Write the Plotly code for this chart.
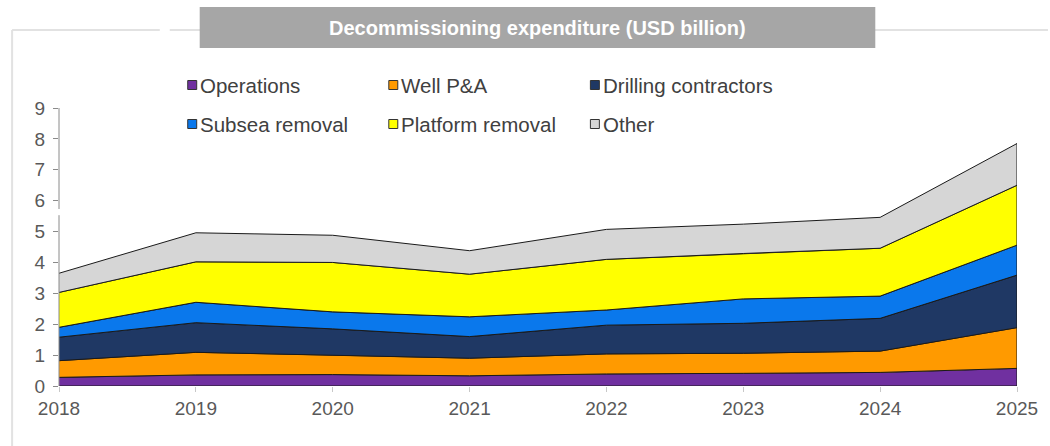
import numpy as np
import plotly.graph_objects as go

# Decommissioning spend by category (USD billion), stacked
years = [2018, 2019, 2020, 2021, 2022, 2023, 2024, 2025]
operations = [0.28, 0.36, 0.37, 0.33, 0.39, 0.41, 0.44, 0.57]
well_pa = [0.54, 0.73, 0.63, 0.57, 0.65, 0.65, 0.69, 1.32]
drilling = [0.76, 0.96, 0.85, 0.70, 0.93, 0.97, 1.06, 1.70]
subsea = [0.32, 0.66, 0.55, 0.64, 0.49, 0.79, 0.72, 0.97]
platform = [1.13, 1.31, 1.60, 1.38, 1.64, 1.47, 1.55, 1.94]
other = [0.62, 0.94, 0.88, 0.76, 0.97, 0.95, 1.00, 1.35]

series_names = ["Operations", "Well P&A", "Drilling contractors",
                "Subsea removal", "Platform removal", "Other"]
series_values = [operations, well_pa, drilling, subsea, platform, other]
series_colors = ["#7030A0", "#FF9A00", "#1F3864", "#0A78EC", "#FFFF00", "#D6D6D6"]

y_ticks = list(range(0, 10))
title_text = "Decommissioning expenditure (USD billion)"

W, H = 1050, 446
ML, MR, MT, MB = 59, 31, 108, 60
PW, PH = W - ML - MR, H - MT - MB


def px_x(p):
    return (p - ML) / PW


def px_y(p):
    return (H - MB - p) / PH


fig = go.Figure()

# each band is a closed polygon between its running-sum floor and ceiling
base = np.zeros(len(years))
for name, vals, col in zip(series_names, series_values, series_colors):
    top = base + np.array(vals)
    xs = list(years) + list(years[::-1])
    ys = list(top) + list(base[::-1])
    fig.add_trace(go.Scatter(
        x=xs, y=ys, fill="toself", fillcolor=col, mode="lines",
        line=dict(color="#1a1a1a", width=1), name=name,
        showlegend=False, hoverinfo="skip"))
    base = top

shapes = []
# outer frame lines
frame_col = "#e2e2e2"
shapes.append(dict(type="line", xref="paper", yref="paper",
                   x0=px_x(12), x1=px_x(12), y0=px_y(30), y1=px_y(446),
                   line=dict(color=frame_col, width=2)))
shapes.append(dict(type="line", xref="paper", yref="paper",
                   x0=px_x(12), x1=px_x(160), y0=px_y(30), y1=px_y(30),
                   line=dict(color=frame_col, width=2)))
shapes.append(dict(type="line", xref="paper", yref="paper",
                   x0=px_x(170), x1=px_x(1050), y0=px_y(30), y1=px_y(30),
                   line=dict(color=frame_col, width=2)))
# title banner
shapes.append(dict(type="rect", xref="paper", yref="paper",
                   x0=px_x(200), x1=px_x(877), y0=px_y(48), y1=px_y(7),
                   fillcolor="#A6A6A6", line=dict(width=0)))
# y axis line, drawn in two pieces with a small break
axis_col = "#8a8a8a"
shapes.append(dict(type="line", xref="paper", yref="y", x0=0, x1=0,
                   y0=0, y1=5.53, line=dict(color=axis_col, width=1),
                   layer="above"))
shapes.append(dict(type="line", xref="paper", yref="y", x0=0, x1=0,
                   y0=5.73, y1=9, line=dict(color=axis_col, width=1),
                   layer="above"))

annotations = [dict(text=f"<b>{title_text}</b>", xref="paper", yref="paper",
                    x=px_x(538.5), y=px_y(28), xanchor="center", yanchor="middle",
                    showarrow=False,
                    font=dict(family="Liberation Sans, Arial", size=20, color="white"))]

# legend: two rows of three entries
col_x = [192.5, 394, 596]
row_y = [85, 124]
for i, (name, col) in enumerate(zip(series_names, series_colors)):
    cx = col_x[i % 3]
    cy = row_y[i // 3]
    shapes.append(dict(type="rect", xref="paper", yref="paper",
                       x0=px_x(cx - 4.5), x1=px_x(cx + 4.5),
                       y0=px_y(cy + 4.5), y1=px_y(cy - 4.5),
                       fillcolor=col, line=dict(color="#333333", width=1)))
    annotations.append(dict(text=name, xref="paper", yref="paper",
                            x=px_x(cx + 6), y=px_y(cy), xanchor="left",
                            yanchor="middle", showarrow=False,
                            font=dict(family="Liberation Sans, Arial", size=20.5,
                                      color="#404040")))

fig.update_layout(
    width=W, height=H,
    margin=dict(l=ML, r=MR, t=MT, b=MB, pad=0),
    paper_bgcolor="white", plot_bgcolor="white",
    showlegend=False,
    shapes=shapes, annotations=annotations,
    xaxis=dict(range=[years[0], years[-1]], tickvals=years,
               ticktext=[str(y) for y in years],
               showgrid=False, zeroline=False, showline=False,
               ticks="outside", ticklen=5, tickcolor="#c8c8c8",
               tickfont=dict(family="Liberation Sans, Arial", size=19,
                             color="#595959")),
    yaxis=dict(range=[0, 9], tickvals=y_ticks,
               showgrid=False, zeroline=False, showline=False,
               ticks="outside", ticklen=5, tickcolor=axis_col,
               ticklabelstandoff=4,
               tickfont=dict(family="Liberation Sans, Arial", size=19,
                             color="#595959")),
)

fig.write_html("out.html")
